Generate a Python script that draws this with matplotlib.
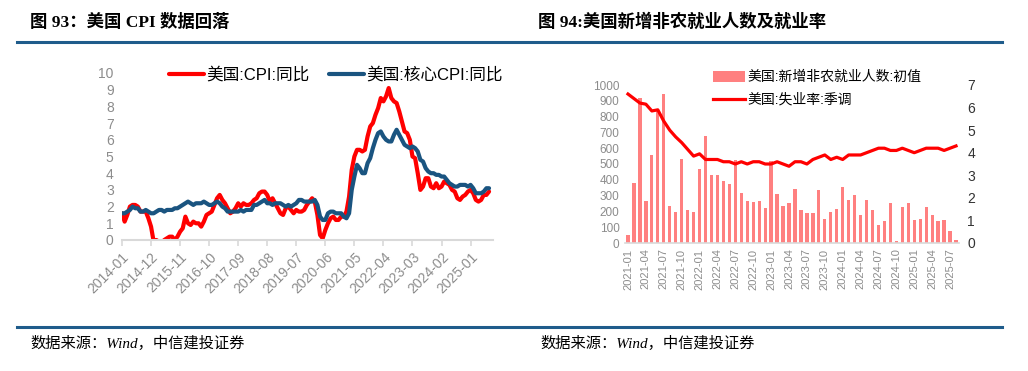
import matplotlib
matplotlib.use("Agg")
import matplotlib.pyplot as plt
from matplotlib.lines import Line2D
from matplotlib.patches import Patch

# 字体：拉丁字母用 Liberation，中文回落到 Noto Sans CJK SC
SANS = ['Liberation Sans', 'Noto Sans CJK SC']
SERIF = ['Liberation Serif', 'Noto Sans CJK SC']
plt.rcParams['font.family'] = SANS

# ---------------- 图93 数据：美国CPI同比 / 核心CPI同比 (2014-01 ~ 2025-08) ----------------
cpi_yoy = [
    1.6, 1.1, 1.5, 2.0, 2.1, 2.1, 2.0, 1.7, 1.7, 1.7, 1.3, 0.8,
    -0.1, 0.0, -0.1, -0.2, 0.0, 0.1, 0.2, 0.2, 0.0, 0.2, 0.5, 0.7,
    1.4, 1.0, 0.9, 1.1, 1.0, 1.0, 0.8, 1.1, 1.5, 1.6, 1.7, 2.1,
    2.5, 2.7, 2.4, 2.2, 1.9, 1.6, 1.7, 1.9, 2.2, 2.0, 2.2, 2.1,
    2.1, 2.2, 2.4, 2.5, 2.8, 2.9, 2.9, 2.7, 2.3, 2.5, 2.2, 1.9,
    1.6, 1.5, 1.9, 2.0, 1.8, 1.6, 1.8, 1.7, 1.7, 1.8, 2.1, 2.3,
    2.5, 2.3, 1.5, 0.3, 0.1, 0.6, 1.0, 1.3, 1.4, 1.2, 1.2, 1.4,
    1.4, 1.7, 2.6, 4.2, 5.0, 5.4, 5.4, 5.3, 5.4, 6.2, 6.8, 7.0,
    7.5, 7.9, 8.5, 8.3, 8.6, 9.1, 8.5, 8.3, 8.2, 7.7, 7.1, 6.5,
    6.4, 6.0, 5.0, 4.9, 4.0, 3.0, 3.2, 3.7, 3.7, 3.2, 3.1, 3.4,
    3.1, 3.2, 3.5, 3.4, 3.3, 3.0, 2.9, 2.5, 2.4, 2.6, 2.7, 2.9,
    3.0, 2.8, 2.4, 2.3, 2.4, 2.7, 2.7, 2.9,
]
core_cpi_yoy = [
    1.6, 1.6, 1.7, 1.8, 2.0, 1.9, 1.9, 1.7, 1.7, 1.8, 1.7, 1.6,
    1.6, 1.7, 1.8, 1.8, 1.7, 1.8, 1.8, 1.8, 1.9, 1.9, 2.0, 2.1,
    2.2, 2.3, 2.2, 2.1, 2.2, 2.2, 2.2, 2.3, 2.2, 2.1, 2.1, 2.2,
    2.3, 2.2, 2.0, 1.9, 1.7, 1.7, 1.7, 1.7, 1.7, 1.8, 1.7, 1.8,
    1.8, 1.8, 2.1, 2.1, 2.2, 2.3, 2.4, 2.2, 2.2, 2.1, 2.2, 2.2,
    2.2, 2.1, 2.0, 2.1, 2.0, 2.1, 2.2, 2.4, 2.4, 2.3, 2.3, 2.3,
    2.3, 2.4, 2.1, 1.4, 1.2, 1.2, 1.6, 1.7, 1.7, 1.6, 1.6, 1.6,
    1.4, 1.3, 1.6, 3.0, 3.8, 4.5, 4.3, 4.0, 4.0, 4.6, 4.9, 5.5,
    6.0, 6.4, 6.5, 6.2, 6.0, 5.9, 5.9, 6.3, 6.6, 6.3, 6.0, 5.7,
    5.6, 5.5, 5.6, 5.5, 5.3, 4.8, 4.7, 4.3, 4.1, 4.0, 4.0, 3.9,
    3.9, 3.8, 3.8, 3.6, 3.4, 3.3, 3.2, 3.2, 3.3, 3.3, 3.3, 3.2,
    3.3, 3.1, 2.8, 2.8, 2.8, 2.9, 3.1, 3.1,
]
cpi_ticklabels = ['2014-01', '2014-12', '2015-11', '2016-10', '2017-09', '2018-08',
                  '2019-07', '2020-06', '2021-05', '2022-04', '2023-03', '2024-02', '2025-01']

# ---------------- 图94 数据：新增非农就业(千人) / 失业率 (2021-01 ~ 2025-08) ----------------
nfp_initial = [
    49, 379, 916, 266, 559, 850, 943, 235, 194, 531, 210, 199,
    467, 678, 431, 428, 390, 372, 528, 315, 263, 261, 263, 223,
    517, 311, 236, 253, 339, 209, 187, 187, 336, 150, 199, 216,
    353, 275, 303, 175, 272, 206, 114, 142, 254, 12, 227, 256,
    143, 151, 228, 177, 139, 147, 73, 22,
]
unemp_rate = [
    6.6, 6.4, 6.2, 6.15, 5.85, 5.9, 5.4, 5.0, 4.7, 4.45, 4.15, 3.85,
    3.95, 3.7, 3.7, 3.7, 3.6, 3.6, 3.5, 3.6, 3.5, 3.6, 3.6, 3.5,
    3.5, 3.6, 3.5, 3.4, 3.6, 3.6, 3.5, 3.7, 3.8, 3.9, 3.7, 3.8,
    3.7, 3.9, 3.9, 3.9, 4.0, 4.1, 4.2, 4.2, 4.1, 4.1, 4.2, 4.1,
    4.0, 4.1, 4.2, 4.2, 4.2, 4.1, 4.2, 4.3,
]
nfp_ticklabels = ['2021-01', '2021-04', '2021-07', '2021-10', '2022-01', '2022-04', '2022-07',
                  '2022-10', '2023-01', '2023-04', '2023-07', '2023-10', '2024-01', '2024-04',
                  '2024-07', '2024-10', '2025-01', '2025-04', '2025-07']

W, H = 1028, 371
fig = plt.figure(figsize=(W / 100, H / 100), dpi=100)

def fx(px):
    return px / W

def fy(py):
    return 1 - py / H

GRAY = '#8C8C8C'
AXIS = '#D9D9D9'
BLUE = '#1A5480'
RED = '#FF0000'

# 标题、分割线、资料来源
fig.text(fx(30), fy(22), '图 93：美国 CPI 数据回落', family=SERIF, weight='bold',
         fontsize=12.5, va='center', ha='left')
fig.text(fx(538), fy(22), '图 94:美国新增非农就业人数及就业率', family=SERIF, weight='bold',
         fontsize=12.5, va='center', ha='left')
for yy in (41.5, 327):
    fig.add_artist(Line2D([fx(17), fx(1002)], [fy(yy), fy(yy)], transform=fig.transFigure,
                          color='#1F5C8B', lw=2.2))
fig.text(fx(30), fy(343), '数据来源：Wind，中信建投证券', family=SERIF, style='italic',
         fontsize=11, va='center', ha='left')
fig.text(fx(540), fy(343), '数据来源：Wind，中信建投证券', family=SERIF, style='italic',
         fontsize=11, va='center', ha='left')

# ---------------- 左图 ----------------
ax = fig.add_axes([fx(122), fy(240), fx(493) - fx(122), fy(73) - fy(240)])
x1 = list(range(len(cpi_yoy)))
ax.plot(x1, cpi_yoy, color=RED, lw=3, label='美国:CPI:同比', solid_capstyle='round')
ax.plot(x1, core_cpi_yoy, color=BLUE, lw=3, label='美国:核心CPI:同比', solid_capstyle='round')
ax.set_xlim(0, 140.5)
ax.set_ylim(0, 10)
ax.set_yticks(range(0, 11))
ax.set_xticks(range(0, 133, 11))
ax.set_xticklabels(cpi_ticklabels, rotation=45, ha='right', rotation_mode='anchor')
ax.tick_params(axis='y', length=0, labelsize=10, labelcolor=GRAY, pad=6)
ax.tick_params(axis='x', length=4, color=AXIS, width=1.2, labelsize=10, labelcolor=GRAY, pad=3)
for s in ('top', 'right', 'left'):
    ax.spines[s].set_visible(False)
ax.spines['bottom'].set_color(AXIS)
ax.spines['bottom'].set_linewidth(1.5)
ax.set_clip_on(False)
ax.legend(loc='center', bbox_to_anchor=(fx(336), fy(75)), bbox_transform=fig.transFigure,
          ncol=2, frameon=False, fontsize=12, handlelength=2.1, handletextpad=0.1,
          columnspacing=1.2, borderpad=0, borderaxespad=0)

# ---------------- 右图 ----------------
bx = fig.add_axes([fx(625), fy(243), fx(959) - fx(625), fy(85) - fy(243)])
x2 = list(range(len(nfp_initial)))
bx.bar(x2, nfp_initial, width=0.55, color='#FF8080', zorder=1)
bx.set_xlim(-0.5, len(nfp_initial) - 0.5)
bx.set_ylim(0, 1000)
bx.set_yticks(range(0, 1001, 100))
bx.set_xticks(range(0, len(nfp_initial), 3))
bx.set_xticklabels(nfp_ticklabels, rotation=90)
bx.tick_params(axis='y', length=0, labelsize=8.5, labelcolor=GRAY, pad=4)
bx.tick_params(axis='x', length=0, labelsize=8, labelcolor=GRAY, pad=4)
for s in ('top', 'right', 'left'):
    bx.spines[s].set_visible(False)
bx.spines['bottom'].set_color(AXIS)
bx.spines['bottom'].set_linewidth(1.2)

bx2 = bx.twinx()
bx2.plot(x2, unemp_rate, color=RED, lw=2.3, zorder=3)
bx2.set_ylim(0, 7)
bx2.set_yticks(range(0, 8))
bx2.tick_params(axis='y', length=0, labelsize=10, labelcolor='#333333', pad=6)
for s in ('top', 'right', 'left', 'bottom'):
    bx2.spines[s].set_visible(False)

handles = [Patch(facecolor='#FF8080', edgecolor='none'), Line2D([], [], color=RED, lw=2.3)]
labels = ['美国:新增非农就业人数:初值', '美国:失业率:季调']
bx2.legend(handles, labels, loc='center left', bbox_to_anchor=(fx(713), fy(88.5)),
           bbox_transform=fig.transFigure, frameon=False, fontsize=10, handlelength=2.3,
           handleheight=0.8, handletextpad=0.2, labelspacing=0.6, borderpad=0, borderaxespad=0)

fig.savefig('out.png', dpi=100)
